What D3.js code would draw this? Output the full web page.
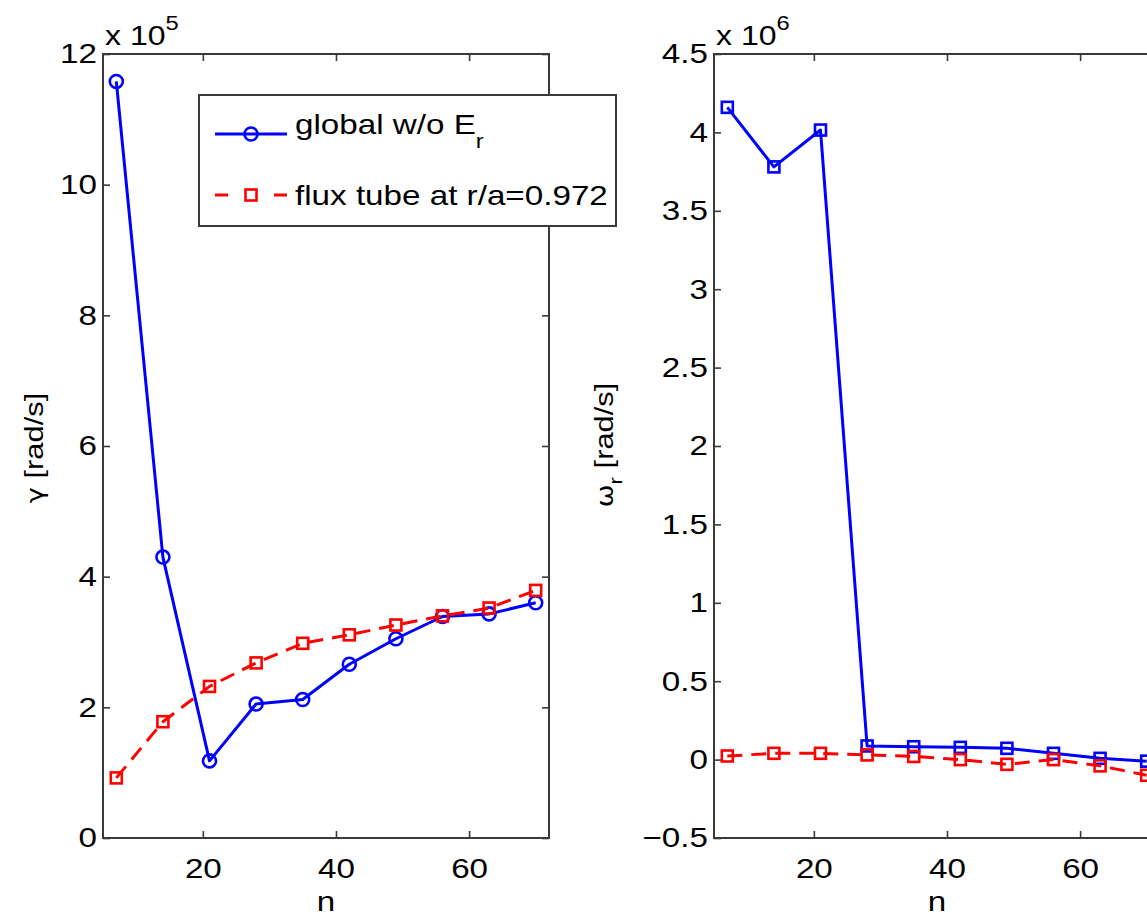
<!DOCTYPE html>
<html>
<head>
<meta charset="utf-8">
<script src="https://cdn.jsdelivr.net/npm/d3@7"></script>
<style>
  html, body { margin: 0; padding: 0; background: #fff; }
  svg { display: block; }
  text { font-family: "Liberation Sans", Arial, Helvetica, sans-serif; fill: #000; }
</style>
</head>
<body>
<svg id="fig" width="1147" height="916"></svg>
<script>
// Toroidal mode number n
const modeN = [7, 14, 21, 28, 35, 42, 49, 56, 63, 70];

// Growth rate gamma, units of 1e5 rad/s
const gammaGlobal = [11.58, 4.30, 1.18, 2.05, 2.12, 2.66, 3.05, 3.39, 3.43, 3.60];
const gammaFlux   = [0.92, 1.78, 2.32, 2.68, 2.98, 3.11, 3.26, 3.40, 3.52, 3.79];

// Real frequency omega_r, units of 1e6 rad/s
const omegaGlobal = [4.16, 3.78, 4.015, 0.087, 0.082, 0.078, 0.072, 0.040, 0.008, -0.010];
const omegaFlux   = [0.023, 0.040, 0.040, 0.030, 0.020, 0.000, -0.030, 0.000, -0.040, -0.100];

// Axis ticks
const xTicks = [20, 40, 60];
const gammaTicks = [0, 2, 4, 6, 8, 10, 12];
const omegaTicks = [-0.5, 0, 0.5, 1, 1.5, 2, 2.5, 3, 3.5, 4, 4.5];

// Legend labels
const legendGlobal = "global w/o E";
const legendFlux = "flux tube at r/a=0.972";

const SX = 1.186;       // horizontal glyph stretch
const FS = 28;          // font size for tick labels / legend
const BLUE = "#0000ff", RED = "#ff0000", FRAME = "#3a3a3a";

const svg = d3.select("#fig");

function panel(opts) {
  const { left, right, top, bottom, xDomain, yDomain, yTicks, series, exponent, ylabel } = opts;
  const x = d3.scaleLinear().domain(xDomain).range([left, right]);
  const y = d3.scaleLinear().domain(yDomain).range([bottom, top]);
  const g = svg.append("g");

  // inward ticks on all four sides
  const ax = (gen, tx, ty) => g.append("g").attr("transform", `translate(${tx},${ty})`).call(gen);
  const bottomAx = ax(d3.axisBottom(x).tickValues(xTicks).tickSize(-7).tickPadding(20).tickFormat(d3.format("d")), 0, bottom);
  const topAx = ax(d3.axisTop(x).tickValues(xTicks).tickSize(-7).tickFormat(""), 0, top);
  const leftAx = ax(d3.axisLeft(y).tickValues(yTicks).tickSize(-7).tickPadding(6).tickFormat(d3.format("")), left, 0);
  const rightAx = ax(d3.axisRight(y).tickValues(yTicks).tickSize(-7).tickFormat(""), right, 0);
  [bottomAx, topAx, leftAx, rightAx].forEach(a => {
    a.select(".domain").remove();
    a.selectAll("line").attr("stroke", FRAME).attr("stroke-width", 1.6);
    a.selectAll("text").attr("font-size", FS).attr("fill", "#000")
      .attr("font-family", "Liberation Sans, Arial, sans-serif");
  });
  bottomAx.selectAll("text").each(function () {
    const t = d3.select(this);
    const yy = +t.attr("y");
    t.attr("y", null).attr("transform", `translate(0,${yy}) scale(${SX},1)`);
  });
  leftAx.selectAll("text").each(function () {
    const t = d3.select(this);
    t.attr("x", null).attr("transform", `translate(-6,0) scale(${SX},1)`);
  });

  // frame
  g.append("rect").attr("x", left).attr("y", top)
    .attr("width", right - left).attr("height", bottom - top)
    .attr("fill", "none").attr("stroke", FRAME).attr("stroke-width", 2);

  // exponent label
  const ex = g.append("text").attr("transform", `translate(${left + 2},45) scale(${SX},1)`)
    .attr("font-size", 27);
  ex.append("tspan").text("x 10");
  ex.append("tspan").attr("dy", -15).attr("font-size", 20).text(exponent);

  // x label
  g.append("text").attr("transform", `translate(${(left + right) / 2},911) scale(${SX},1)`)
    .attr("text-anchor", "middle").attr("font-size", FS).text("n");

  // y label
  const yl = g.append("text")
    .attr("transform", `translate(${ylabel.x},${ylabel.y}) rotate(-90) scale(${SX},1)`)
    .attr("text-anchor", "middle").attr("font-size", 26);
  ylabel.build(yl);

  // data series
  series.forEach(s => {
    const pts = modeN.map((v, i) => [x(v), y(s.values[i])]);
    g.append("path").attr("d", d3.line()(pts))
      .attr("fill", "none").attr("stroke", s.color).attr("stroke-width", 3)
      .attr("stroke-linejoin", "round")
      .attr("stroke-dasharray", s.dashed ? "15,9" : null);
    drawMarkers(g, pts, s.marker, s.color);
  });
  return g;
}

function drawMarkers(g, pts, marker, color) {
  if (marker === "circle") {
    g.selectAll(null).data(pts).enter().append("circle")
      .attr("cx", d => d[0]).attr("cy", d => d[1]).attr("r", 6.5)
      .attr("fill", "none").attr("stroke", color).attr("stroke-width", 2.6);
  } else {
    const s = 11;
    g.selectAll(null).data(pts).enter().append("rect")
      .attr("x", d => d[0] - s / 2).attr("y", d => d[1] - s / 2)
      .attr("width", s).attr("height", s)
      .attr("fill", "none").attr("stroke", color).attr("stroke-width", 2.6);
  }
}

// Left panel: growth rate
const gLeft = panel({
  left: 103, right: 549, top: 54, bottom: 838,
  xDomain: [5, 72], yDomain: [0, 12], yTicks: gammaTicks,
  exponent: "5",
  ylabel: { x: 43, y: 448, build: t => {
    t.append("tspan").attr("font-family", "DejaVu Sans, sans-serif").attr("font-size", 23).text("γ");
    t.append("tspan").text(" [rad/s]");
  } },
  series: [
    { values: gammaGlobal, color: BLUE, dashed: false, marker: "circle" },
    { values: gammaFlux, color: RED, dashed: true, marker: "square" }
  ]
});

// Right panel: real frequency
panel({
  left: 714, right: 1160, top: 54, bottom: 838,
  xDomain: [5, 72], yDomain: [-0.5, 4.5], yTicks: omegaTicks,
  exponent: "6",
  ylabel: { x: 613, y: 445, build: t => {
    t.append("tspan").attr("font-family", "DejaVu Sans, sans-serif").attr("font-size", 23).text("ω");
    t.append("tspan").attr("dy", 9).attr("font-size", 19).text("r");
    t.append("tspan").attr("dy", -9).text(" [rad/s]");
  } },
  series: [
    { values: omegaGlobal, color: BLUE, dashed: false, marker: "square" },
    { values: omegaFlux, color: RED, dashed: true, marker: "square" }
  ]
});

// Legend for the left panel
const lg = gLeft.append("g");
lg.append("rect").attr("x", 199).attr("y", 95).attr("width", 417).attr("height", 131)
  .attr("fill", "#fff").attr("stroke", FRAME).attr("stroke-width", 2);
lg.append("line").attr("x1", 215).attr("x2", 287).attr("y1", 134).attr("y2", 134)
  .attr("stroke", BLUE).attr("stroke-width", 3);
drawMarkers(lg, [[251, 134]], "circle", BLUE);
lg.append("line").attr("x1", 215).attr("x2", 287).attr("y1", 195).attr("y2", 195)
  .attr("stroke", RED).attr("stroke-width", 3).attr("stroke-dasharray", "13,46");
drawMarkers(lg, [[251, 195]], "square", RED);
const t1 = lg.append("text").attr("transform", `translate(295,133.5) scale(${SX},1)`).attr("font-size", FS);
t1.append("tspan").text(legendGlobal);
t1.append("tspan").attr("dy", 14).attr("font-size", 20).text("r");
lg.append("text").attr("transform", `translate(295,205) scale(${SX},1)`).attr("font-size", FS).text(legendFlux);
</script>
</body>
</html>
